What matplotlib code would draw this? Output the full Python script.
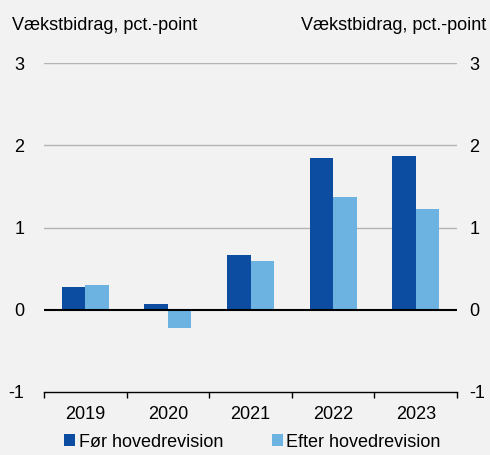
import matplotlib.pyplot as plt
import numpy as np

plt.rcParams['font.family'] = ['Liberation Sans', 'DejaVu Sans']

years = ['2019', '2020', '2021', '2022', '2023']
foer = [0.28, 0.065, 0.66, 1.84, 1.87]
efter = [0.30, -0.22, 0.59, 1.37, 1.22]
yticks = [-1, 0, 1, 2, 3]

dark = '#0c4da2'
light = '#6cb3e2'
bg = '#f2f2f2'
fs = 13

fig = plt.figure(figsize=(4.9, 4.55), dpi=100, facecolor=bg)
ax = fig.add_axes([44 / 490, 63 / 455, 413 / 490, 329 / 455], facecolor=bg)

x = np.arange(len(years))
w = 0.285
ax.bar(x - w / 2, foer, w, color=dark, label='Før hovedrevision', zorder=3)
ax.bar(x + w / 2, efter, w, color=light, label='Efter hovedrevision', zorder=3)

ax.set_xlim(-0.5, len(years) - 0.5)
ax.set_ylim(-1, 3)
for v in [1, 2, 3]:
    ax.axhline(v, color='#b4b4b4', lw=1, zorder=1)
ax.axhline(0, color='black', lw=1.5, zorder=4)

for s in ['top', 'right', 'left']:
    ax.spines[s].set_visible(False)
ax.spines['bottom'].set_linewidth(1)

ax.set_xticks(x)
ax.set_xticklabels(years, fontsize=fs)
ax.set_xticks(np.arange(-0.5, len(years)), minor=True)
ax.tick_params(axis='x', which='major', length=0, pad=10)
ax.tick_params(axis='x', which='minor', length=4, width=1, direction='out')

ax.set_yticks(yticks)
ax.set_yticklabels([str(v) for v in yticks], fontsize=fs)
ax.tick_params(axis='y', length=0, pad=14)

ax2 = ax.twinx()
ax2.set_ylim(-1, 3)
ax2.set_yticks(yticks)
ax2.set_yticklabels([str(v) for v in yticks], fontsize=fs)
ax2.tick_params(axis='y', length=0, pad=9)
for s in ax2.spines.values():
    s.set_visible(False)

fig.text(12 / 490, 1 - 25 / 455, 'Vækstbidrag, pct.-point', fontsize=fs, va='center', ha='left')
fig.text(486 / 490, 1 - 25 / 455, 'Vækstbidrag, pct.-point', fontsize=fs, va='center', ha='right')

ax.legend(loc='center', bbox_to_anchor=(0.505, -0.152), ncol=2, frameon=False,
          fontsize=fs, handlelength=0.6, handleheight=0.6, handletextpad=0.2,
          columnspacing=2.7)

fig.savefig('out.png', dpi=100, facecolor=bg)
